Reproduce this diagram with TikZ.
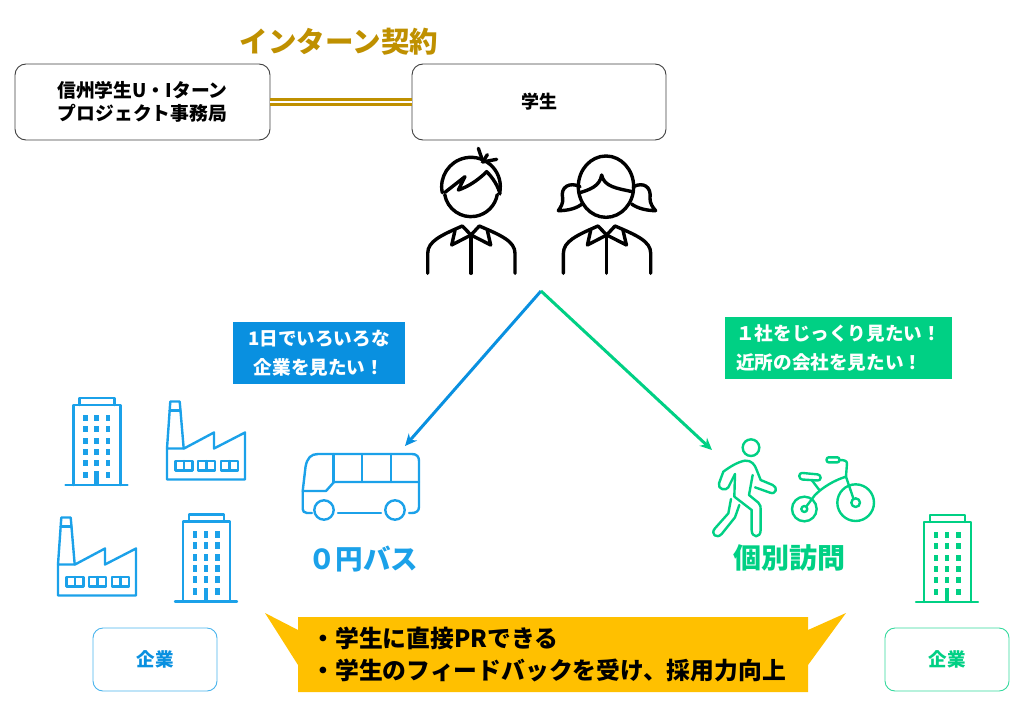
\documentclass[tikz,border=0pt]{standalone}
\usepackage{fontspec}
\setmainfont{Noto Sans CJK JP}
\usetikzlibrary{arrows.meta,positioning}
\definecolor{goldline}{RGB}{191,144,0}
\definecolor{calloutorange}{RGB}{255,192,0}
\definecolor{busblue}{RGB}{9,144,224}
\definecolor{iconblue}{RGB}{27,161,233}
\definecolor{mintgreen}{RGB}{0,208,132}
\tikzset{
  topbox/.style={rectangle,rounded corners=11pt,draw=black!75,fill=white,line width=.9pt,minimum width=255pt,minimum height=76pt,align=center,font=\fontsize{18.8}{23}\selectfont\bfseries},
  firmbox/.style={rectangle,rounded corners=10pt,fill=white,line width=.9pt,minimum width=124pt,minimum height=63pt,font=\fontsize{18.5}{20}\selectfont\bfseries},
  wishbox/.style={rectangle,text=white,align=left,font=\fontsize{18.6}{29.5}\selectfont\bfseries},
  headline/.style={font=\fontsize{27.5}{32}\selectfont\bfseries},
  contract/.style={draw=goldline,double=white,double distance=2pt,line width=2.8pt},
  bluearr/.style={-{Stealth[length=12pt,width=11pt]},line width=3pt,color=busblue},
  greenarr/.style={-{Stealth[length=12pt,width=11pt]},line width=3pt,color=mintgreen},
  zoomed/.style={x=.3333pt,y=-.3333pt},
  iconline/.style={line width=2.4pt,line join=round,line cap=round},
  pics/building/.style={code={
    \draw[iconline] (-31,0) -- (31,0);
    \draw[iconline] (-23,0) -- (-23,-80) -- (24,-80) -- (24,0);
    \draw[iconline] (-17,-80) -- (-17,-87) -- (18,-87) -- (18,-80);
    \foreach \colx in {-11,0,11.5}
      \foreach \rowy in {-67,-56,-44,-33,-22,-10}
        \fill (\colx-2.4,\rowy-3.2) rectangle (\colx+2.4,\rowy+3.2);
    \fill (-2.4,-14) rectangle (2.4,0);
  }},
  pics/factory/.style={code={
    \draw[iconline] (0,0) -- (0,-31) -- (17,-31) -- (47,-47) -- (47,-31) -- (78,-47) -- (78,0) -- cycle;
    \draw[iconline] (0,-31) -- (3.3,-78) -- (12.7,-78) -- (16.7,-31);
    \draw[iconline] (2.6,-69) -- (13.4,-69);
    \foreach \winx in {8.3,31,54}{
      \draw[iconline] (\winx,-9) rectangle (\winx+17,-18.5);
      \draw[iconline] (\winx+8.5,-9) -- (\winx+8.5,-18.5);
    }
  }},
  pics/shirt/.style={code={
    \draw[line width=3.4pt,line join=round,line cap=round] (-43.3,0) -- (-43.3,-20) .. controls (-43.3,-32) and (-30,-38) .. (-8.7,-47.3) -- (0,-38.3) -- (8.3,-47.3) .. controls (30,-38) and (44,-32) .. (44,-20) -- (44,0);
    \draw[line width=3.4pt,line join=round,line cap=round] (-16,-43) -- (-19.3,-28.3) -- (0,-38.3) -- (19.7,-28.3) -- (16.3,-43);
    \draw[line width=3.4pt,line cap=round] (0,-38.3) -- (0,0);
  }}
}
\begin{document}
\begin{tikzpicture}[x=1pt,y=-1pt]
  \useasboundingbox (0,0) rectangle (1024,725);

  \node[topbox] (office) at (142.5,102) {信州学生U・Iターン\\プロジェクト事務局};
  \node[topbox,minimum width=254pt,font=\fontsize{18}{23}\selectfont\bfseries] (student) at (539,102) {学生};
  \node[headline,text=goldline,font=\fontsize{28.5}{32}\selectfont\bfseries] (contractlabel) at (339,42) {インターン契約};
  \draw[contract] (office) -- (student);

  % boy
  \begin{scope}[shift={(400,130)},zoomed,line width=3.4pt,line join=round,line cap=round]
    \draw (213,170) ++(168:88) arc (168:372:88);
    \draw (213,180) ++(170:80) arc (170:10:80);
    \draw (135,187) -- (195,140) -- (175,180) .. controls (205,170) and (235,150) .. (260,125) .. controls (280,145) and (295,170) .. (300,192);
    \draw (235,55) -- (247,90);
    \draw (262,74) -- (252,90);
    \draw (290,88) -- (247,96);
  \end{scope}
  \pic (boybody) at (471,273.3) {shirt};

  % girl
  \begin{scope}[shift={(400,130)},zoomed,line width=3.4pt,line join=round,line cap=round]
    \draw (618,170) ellipse (83 and 92);
    \draw (540,188) .. controls (565,180) and (600,170) .. (605,135) .. controls (612,170) and (650,175) .. (697,185);
    \draw (540,170) .. controls (510,155) and (480,170) .. (488,205) .. controls (490,220) and (482,232) .. (475,242) .. controls (505,242) and (530,235) .. (546,222);
    \draw (700,170) .. controls (730,155) and (755,170) .. (750,205) .. controls (750,220) and (758,232) .. (767,242) .. controls (740,242) and (712,235) .. (695,222);
  \end{scope}
  \pic (girlbody) at (606.7,273.3) {shirt};

  \coordinate (fork) at (541,291);
  \coordinate (busend) at (405,446);
  \coordinate (walkend) at (712,450);
  \draw[bluearr] (fork) -- (busend);
  \draw[greenarr] (fork) -- (walkend);

  \node[wishbox,fill=busblue,minimum width=172pt,minimum height=62pt,align=center] (buswish) at (319,353) {1日でいろいろな\\企業を見たい！};
  \node[wishbox,fill=mintgreen,minimum width=227pt,minimum height=62pt] (walkwish) at (838.5,348) {１社をじっくり見たい！\\近所の会社を見たい！};

  \pic[color=iconblue] (bldgA) at (96.5,485) {building};
  \pic[color=iconblue] (factA) at (167,479.5) {factory};
  \pic[color=iconblue] (factB) at (58,595.5) {factory};
  \pic[color=iconblue] (bldgB) at (206,601.5) {building};
  \pic[color=mintgreen] (bldgC) at (947,602) {building};

  % bus
  \begin{scope}[color=iconblue,iconline]
    \draw (312,513) -- (307,513) .. controls (304,513) and (302.7,511) .. (302.7,509) -- (302.7,491) -- (305.5,467) .. controls (307,458) and (311,454) .. (318,454) -- (412,454) .. controls (417,454) and (419,457) .. (419,461) -- (419,507) .. controls (419,511) and (416,513) .. (412,513) -- (409,513);
    \draw (338,513) -- (381,513);
    \draw (324,510) circle (9.7);
    \draw (395,510) circle (9.7);
    \draw (302.7,491) -- (326,491) -- (334,482) -- (419,482);
    \draw (333.3,454) -- (333.3,482);
    \draw (361.7,454) -- (361.7,482);
    \draw (390.7,454) -- (390.7,482);
  \end{scope}
  \node[headline,text=iconblue] (buslabel) at (363,559) {０円バス};

  % walker
  \begin{scope}[shift={(700,430)},zoomed,color=mintgreen,iconline]
    \draw (153,53) circle (25);
    \draw (105,132) -- (85,172) .. controls (78,184) and (52,178) .. (57,160) -- (70,125) .. controls (90,110) and (115,95) .. (135,92) .. controls (155,90) and (165,105) .. (170,120) -- (182,150) -- (218,165) .. controls (235,172) and (228,195) .. (210,188) -- (165,172);
    \draw (158,135) -- (147,195) -- (175,218) .. controls (182,225) and (182,230) .. (182,240) -- (182,300) .. controls (182,325) and (155,325) .. (155,300) -- (155,240) -- (103,200) -- (105,132);
    \draw (93,207) -- (85,250) -- (45,295) .. controls (30,312) and (50,328) .. (65,312) -- (105,262) -- (118,225);
  \end{scope}

  % bicycle
  \begin{scope}[shift={(700,430)},zoomed,color=mintgreen,iconline]
    \draw (467,218) circle (55);
    \draw (467,218) circle (13);
    \draw (313,237) circle (37);
    \draw (313,237) circle (9);
    \draw (320,228) -- (345,195) .. controls (370,170) and (405,150) .. (438,140) -- (460,205);
    \draw (438,140) -- (441,100) .. controls (441,92) and (432,90) .. (418,90);
    \draw[rounded corners=2pt] (380,82) rectangle (418,97);
    \draw[rounded corners=3pt] (298,128) -- (362,134) -- (362,152) -- (298,148) -- cycle;
    \draw (335,150) -- (358,180);
  \end{scope}
  \node[headline,text=mintgreen,font=\fontsize{28}{32}\selectfont\bfseries] (walklabel) at (789,558) {個別訪問};

  % callout
  \fill[calloutorange] (265,613) -- (298,630) -- (298,617) -- (808,617) -- (808,630) -- (846,613) -- (808,665) -- (808,692) -- (298,692) -- (298,665) -- cycle;
  \node[anchor=west,align=left,font=\fontsize{23.8}{31.5}\selectfont\bfseries] (merit) at (308,654.5) {・学生に直接PRできる\\・学生のフィードバックを受け、採用力向上};

  \node[firmbox,draw=iconblue!80,text=busblue] (firmblue) at (155,659.5) {企業};
  \node[firmbox,draw=mintgreen!80,text=mintgreen] (firmgreen) at (947,659.5) {企業};
\end{tikzpicture}
\end{document}
